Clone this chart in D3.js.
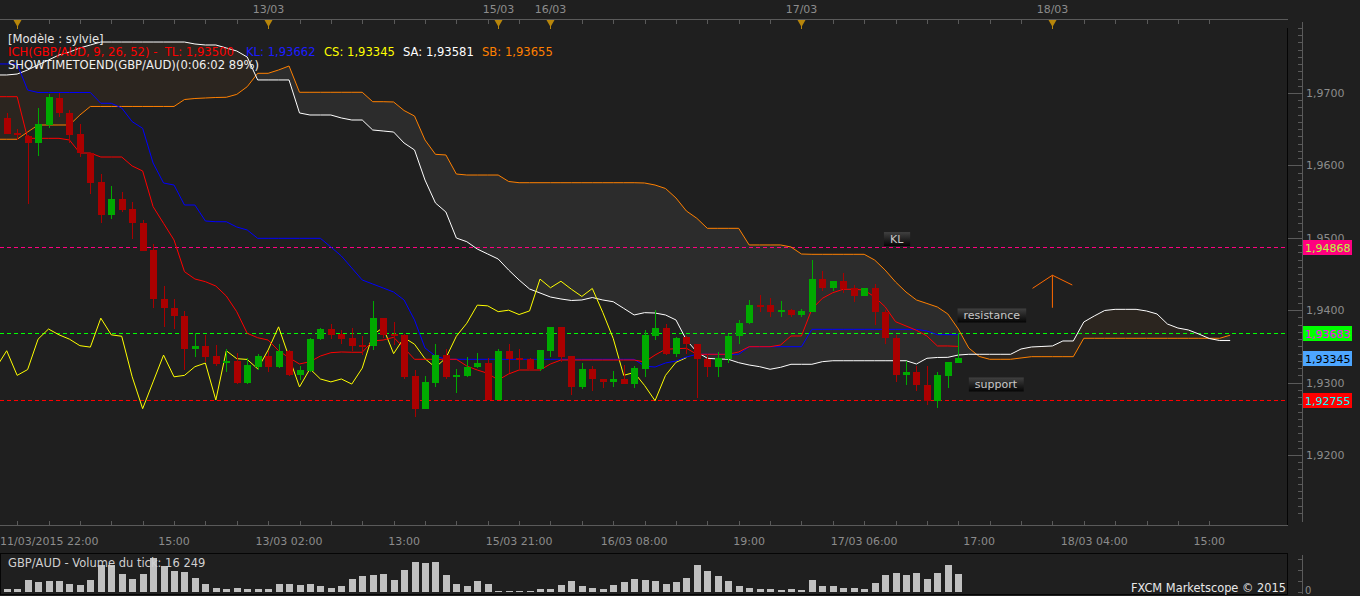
<!DOCTYPE html>
<html><head><meta charset="utf-8">
<script src="https://cdn.jsdelivr.net/npm/d3@7"></script>
<style>
body{margin:0;background:#1f1f1f;overflow:hidden}
svg{display:block}
text{font-family:"DejaVu Sans",sans-serif;}
</style></head>
<body><svg id="c" width="1360" height="596"></svg>
<script>
// ---------- DATA ----------
const opens  = [1.9665,1.9645,1.9641,1.9631,1.9656,1.9693,1.9672,1.9643,1.9617,1.9577,1.9531,1.9554,1.9540,1.9520,1.9483,1.9416,1.9403,1.9392,1.9346,1.9351,1.9337,1.9327,1.9330,1.9300,1.9321,1.9337,1.9321,1.9344,1.9310,1.9316,1.9360,1.9374,1.9367,1.9361,1.9352,1.9350,1.9389,1.9367,1.9366,1.9309,1.9264,1.9300,1.9338,1.9308,1.9309,1.9321,1.9327,1.9276,1.9344,1.9334,1.9332,1.9319,1.9344,1.9377,1.9337,1.9294,1.9319,1.9305,1.9301,1.9305,1.9298,1.9319,1.9365,1.9376,1.9340,1.9363,1.9353,1.9333,1.9321,1.9333,1.9364,1.9382,1.9407,1.9407,1.9398,1.9400,1.9394,1.9398,1.9443,1.9431,1.9440,1.9430,1.9419,1.9430,1.9398,1.9362,1.9310,1.9314,1.9297,1.9275,1.9309,1.9327];
const highs  = [1.9673,1.9650,1.9642,1.9679,1.9698,1.9700,1.9677,1.9657,1.9617,1.9588,1.9572,1.9563,1.9549,1.9525,1.9492,1.9433,1.9415,1.9399,1.9368,1.9366,1.9352,1.9346,1.9341,1.9334,1.9340,1.9343,1.9353,1.9345,1.9323,1.9361,1.9376,1.9381,1.9373,1.9376,1.9364,1.9413,1.9389,1.9384,1.9367,1.9317,1.9309,1.9353,1.9347,1.9319,1.9335,1.9341,1.9334,1.9346,1.9354,1.9347,1.9334,1.9345,1.9377,1.9377,1.9337,1.9327,1.9323,1.9305,1.9316,1.9324,1.9323,1.9372,1.9400,1.9381,1.9363,1.9364,1.9353,1.9340,1.9342,1.9367,1.9386,1.9414,1.9421,1.9417,1.9413,1.9401,1.9401,1.9469,1.9454,1.9441,1.9452,1.9435,1.9431,1.9436,1.9400,1.9366,1.9330,1.9323,1.9323,1.9314,1.9328,1.9368];
const lows   = [1.9643,1.9635,1.9546,1.9613,1.9651,1.9667,1.9631,1.9612,1.9560,1.9521,1.9526,1.9536,1.9498,1.9482,1.9403,1.9377,1.9374,1.9317,1.9335,1.9329,1.9323,1.9315,1.9298,1.9298,1.9318,1.9314,1.9320,1.9309,1.9304,1.9315,1.9359,1.9360,1.9353,1.9344,1.9338,1.9345,1.9362,1.9352,1.9305,1.9253,1.9264,1.9294,1.9305,1.9286,1.9308,1.9320,1.9276,1.9276,1.9313,1.9317,1.9317,1.9316,1.9336,1.9328,1.9283,1.9291,1.9288,1.9293,1.9294,1.9298,1.9293,1.9308,1.9359,1.9338,1.9336,1.9340,1.9279,1.9308,1.9308,1.9327,1.9354,1.9381,1.9398,1.9390,1.9390,1.9390,1.9391,1.9398,1.9427,1.9427,1.9424,1.9411,1.9419,1.9380,1.9354,1.9301,1.9296,1.9288,1.9269,1.9265,1.9292,1.9327];
const closes = [1.9644,1.9642,1.9631,1.9657,1.9694,1.9672,1.9642,1.9617,1.9576,1.9531,1.9554,1.9538,1.9520,1.9482,1.9415,1.9403,1.9392,1.9346,1.9351,1.9336,1.9326,1.9330,1.9300,1.9324,1.9337,1.9321,1.9344,1.9310,1.9318,1.9360,1.9374,1.9366,1.9360,1.9351,1.9349,1.9389,1.9366,1.9364,1.9308,1.9264,1.9301,1.9338,1.9308,1.9310,1.9322,1.9327,1.9276,1.9344,1.9333,1.9332,1.9319,1.9345,1.9377,1.9335,1.9294,1.9319,1.9305,1.9301,1.9305,1.9298,1.9320,1.9366,1.9376,1.9340,1.9362,1.9353,1.9333,1.9321,1.9334,1.9364,1.9382,1.9407,1.9406,1.9398,1.9400,1.9394,1.9399,1.9443,1.9431,1.9440,1.9429,1.9419,1.9430,1.9397,1.9361,1.9310,1.9314,1.9296,1.9275,1.9310,1.9328,1.93345];
const volumes = [3000,3000,11300,8900,9800,9800,7100,6200,11300,24500,24500,16200,12200,16200,31500,23600,19000,18400,13100,7600,3900,3000,3900,2500,2500,3000,7100,7600,6200,7100,5500,3900,5200,12200,14400,15300,16200,11300,20500,27300,26600,27300,15300,7600,5200,9800,7600,600,600,600,900,2500,2500,6200,9800,5200,3900,3000,6200,8900,12200,11300,9800,7100,8900,12900,24500,19000,14400,9800,5200,3900,2500,3000,1800,2500,1600,10700,5500,5200,3900,3900,3000,8300,15300,17400,15300,17400,12200,17400,24500,16249];
// Ichimoku lines (Tenkan / Kijun start one bar left of the first candle)
const tenkan = [1.96949,1.96949,1.96949,1.96374,1.96374,1.96374,1.96374,1.96351,1.96171,1.96171,1.96116,1.96116,1.96116,1.95992,1.95923,1.95430,1.95200,1.94970,1.94532,1.94431,1.94394,1.94334,1.94196,1.93979,1.93681,1.93620,1.93588,1.93441,1.93344,1.93257,1.93289,1.93367,1.93413,1.93423,1.93419,1.93419,1.93575,1.93588,1.93626,1.93478,1.93322,1.93322,1.93322,1.93322,1.93322,1.93229,1.93174,1.93128,1.93036,1.93119,1.93174,1.93174,1.93174,1.93257,1.93312,1.93312,1.93312,1.93312,1.93312,1.93312,1.93312,1.93312,1.93285,1.93381,1.93460,1.93468,1.93474,1.93391,1.93391,1.93391,1.93391,1.93423,1.93496,1.93496,1.93496,1.93519,1.93644,1.93644,1.94017,1.94164,1.94242,1.94289,1.94289,1.94279,1.94182,1.94048,1.93841,1.93782,1.93722,1.93644,1.93506,1.93506,1.93500];
const kijun = [1.97401,1.97401,1.97401,1.97041,1.97007,1.97007,1.97007,1.97007,1.97007,1.97007,1.96858,1.96858,1.96793,1.96604,1.96512,1.96033,1.95757,1.95729,1.95453,1.95453,1.95232,1.95222,1.95222,1.95149,1.95108,1.94993,1.94993,1.94993,1.94993,1.94993,1.94993,1.94993,1.94873,1.94749,1.94583,1.94417,1.94362,1.94307,1.94251,1.94141,1.93865,1.93478,1.93367,1.93322,1.93322,1.93322,1.93322,1.93322,1.93322,1.93322,1.93322,1.93322,1.93322,1.93322,1.93322,1.93322,1.93322,1.93322,1.93322,1.93322,1.93322,1.93322,1.93229,1.93215,1.93271,1.93298,1.93354,1.93391,1.93391,1.93391,1.93391,1.93391,1.93496,1.93496,1.93496,1.93496,1.93496,1.93496,1.93736,1.93736,1.93736,1.93736,1.93736,1.93736,1.93736,1.93736,1.93736,1.93736,1.93736,1.93713,1.93662,1.93662,1.93662];
// Senkou spans: from one bar left of first candle to 26 bars past the last candle
const senkouA = [1.97249,1.97249,1.97262,1.97318,1.97387,1.97456,1.97525,1.97566,1.97622,1.97663,1.97704,1.97704,1.97704,1.97704,1.97704,1.97704,1.97704,1.97704,1.97704,1.97677,1.97663,1.97663,1.97622,1.97580,1.97497,1.97180,1.97180,1.97180,1.97180,1.96724,1.96696,1.96696,1.96696,1.96655,1.96627,1.96627,1.96489,1.96475,1.96461,1.96309,1.96213,1.95798,1.95481,1.95356,1.94997,1.94946,1.94845,1.94776,1.94707,1.94555,1.94417,1.94293,1.94238,1.94182,1.94155,1.94134,1.94141,1.94175,1.94141,1.94117,1.94026,1.93934,1.93966,1.93961,1.93934,1.93865,1.93588,1.93423,1.93336,1.93326,1.93322,1.93275,1.93243,1.93220,1.93184,1.93211,1.93253,1.93253,1.93253,1.93289,1.93302,1.93302,1.93302,1.93302,1.93302,1.93302,1.93302,1.93302,1.93257,1.93336,1.93347,1.93349,1.93381,1.93391,1.93391,1.93391,1.93391,1.93391,1.93464,1.93492,1.93499,1.93506,1.93575,1.93575,1.93837,1.93920,1.93996,1.94012,1.94012,1.94012,1.93989,1.93948,1.93809,1.93754,1.93727,1.93671,1.93609,1.93581,1.93581];
const senkouB = [1.96361,1.96361,1.96361,1.96461,1.96558,1.96558,1.96558,1.96558,1.96696,1.96814,1.96814,1.96814,1.96814,1.96814,1.96814,1.96814,1.96814,1.96814,1.96910,1.96924,1.96931,1.96938,1.96941,1.96981,1.97087,1.97272,1.97272,1.97318,1.97373,1.97010,1.97010,1.97010,1.97010,1.97010,1.97010,1.97010,1.96880,1.96880,1.96876,1.96758,1.96682,1.96351,1.96153,1.96144,1.95881,1.95867,1.95867,1.95867,1.95867,1.95778,1.95761,1.95761,1.95761,1.95761,1.95761,1.95761,1.95761,1.95761,1.95761,1.95761,1.95761,1.95761,1.95757,1.95729,1.95681,1.95550,1.95370,1.95269,1.95131,1.95131,1.95131,1.95131,1.94901,1.94901,1.94901,1.94901,1.94873,1.94776,1.94772,1.94772,1.94772,1.94772,1.94772,1.94772,1.94693,1.94555,1.94390,1.94251,1.94141,1.94093,1.94044,1.93948,1.93740,1.93478,1.93361,1.93322,1.93322,1.93322,1.93340,1.93358,1.93358,1.93358,1.93358,1.93358,1.93612,1.93612,1.93612,1.93612,1.93612,1.93612,1.93612,1.93612,1.93612,1.93612,1.93612,1.93612,1.93612,1.93612,1.93655];
const chikouShift = 26;
// horizontal levels
const levelValues = [1.94868, 1.93683, 1.92755];
const levelColors = ["#ff0080", "#00ff00", "#ff0000"];
const levelTextColors = ["#b4ff3c", "#ff00ff", "#00ffff"];
const lastPrice = 1.93345;
const priceMajorTicks = [1.92, 1.93, 1.94, 1.95, 1.96, 1.97];
// time axes
const timeLabelIdx = [-1, 16, 27, 38, 49, 60, 71, 82, 93, 104, 115];
const timeLabelText = ["11/03/2015 22:00","15:00","13/03 02:00","13:00","15/03 21:00","16/03 08:00","19:00","17/03 06:00","17:00","18/03 04:00","15:00"];
const dayMarkerIdx = [1, 25, 47, 52, 76, 100];
const dayMarkerText = ["12/03","13/03","15/03","16/03","17/03","18/03"];
// annotations
const annotLabels = ["KL", "resistance", "support"];
const annotIdx = [85.1, 94.2, 94.6];
const annotPrice = [1.94983, 1.93927, 1.92974];
const arrowIdx = [100, 98.1, 101.9];
const arrowPrice = [1.94034, 1.94483, 1.94302, 1.94348];

// ---------- SCALES ----------
const W = 1360, H = 596;
const plotRight = 1288, plotTop = 20, plotBottom = 526;
const x = d3.scaleLinear().domain([0, 91]).range([6.7, 958.3]);
const y = d3.scaleLinear().domain([1.92, 1.97]).range([455, 93]);
const vy = d3.scaleLinear().domain([0, 30000]).range([592, 559.3]);
const loc = d3.formatLocale({decimal: ",", thousands: " ", grouping: [3], currency: ["", ""]});
const f4 = loc.format(".4f"), f5 = loc.format(".5f");

const svg = d3.select("#c");
svg.append("rect").attr("width", W).attr("height", H).attr("fill", "#1f1f1f");
const defs = svg.append("defs");
defs.append("clipPath").attr("id", "plot").append("rect").attr("x", 0).attr("y", plotTop).attr("width", plotRight).attr("height", plotBottom - plotTop);
const grad = defs.append("linearGradient").attr("id", "lab").attr("x1", 0).attr("y1", 0).attr("x2", 0).attr("y2", 1);
grad.append("stop").attr("offset", "0%").attr("stop-color", "#404040");
grad.append("stop").attr("offset", "100%").attr("stop-color", "#050505");

const plot = svg.append("g").attr("clip-path", "url(#plot)");

// ---------- CLOUD ----------
const spanPts = senkouA.map((a, k) => ({i: k - 1, a, b: senkouB[k]}));
defs.append("clipPath").attr("id", "belowA").append("path")
  .attr("d", d3.area().x(d => x(d.i)).y0(H).y1(d => y(d.a))(spanPts));
defs.append("clipPath").attr("id", "aboveA").append("path")
  .attr("d", d3.area().x(d => x(d.i)).y0(0).y1(d => y(d.a))(spanPts));
plot.append("path").attr("clip-path", "url(#belowA)").attr("fill", "#2b251f")
  .attr("d", d3.area().x(d => x(d.i)).y0(0).y1(d => y(d.b))(spanPts));
plot.append("path").attr("clip-path", "url(#aboveA)").attr("fill", "#2c2c2c")
  .attr("d", d3.area().x(d => x(d.i)).y0(H).y1(d => y(d.b))(spanPts));

// ---------- LEVEL LINES ----------
levelValues.forEach((v, k) => {
  plot.append("line").attr("x1", 0).attr("x2", plotRight).attr("y1", Math.round(y(v)) + 0.5).attr("y2", Math.round(y(v)) + 0.5)
    .attr("stroke", levelColors[k]).attr("stroke-width", 1).attr("stroke-dasharray", "4,3").attr("shape-rendering", "crispEdges");
});

// ---------- INDICATOR LINES ----------
const line = d3.line().x(d => x(d.i)).y(d => y(d.v));
function drawLine(vals, start, color) {
  plot.append("path").attr("fill", "none").attr("stroke", color).attr("stroke-width", 1)
    .attr("d", line(vals.map((v, k) => ({i: start + k, v}))));
}
drawLine(senkouB, -1, "#ff8000");
drawLine(senkouA, -1, "#ffffff");
drawLine(closes.slice(chikouShift - 1), -1, "#ffff00");
drawLine(kijun, -1, "#0000ff");
drawLine(tenkan, -1, "#ff0000");

// ---------- CANDLES ----------
const candles = closes.map((c, i) => ({i, o: opens[i], h: highs[i], l: lows[i], c}));
const cg = plot.append("g").attr("shape-rendering", "crispEdges");
cg.selectAll("line.w").data(candles).join("line")
  .attr("x1", d => Math.round(x(d.i)) + 0.5).attr("x2", d => Math.round(x(d.i)) + 0.5)
  .attr("y1", d => y(d.h)).attr("y2", d => y(d.l))
  .attr("stroke", d => d.c >= d.o ? "#00aa00" : "#aa0000");
cg.selectAll("rect").data(candles).join("rect")
  .attr("x", d => Math.round(x(d.i)) - 3).attr("width", 7)
  .attr("y", d => y(Math.max(d.o, d.c)))
  .attr("height", d => Math.max(2, Math.abs(y(d.o) - y(d.c))))
  .attr("fill", d => d.c >= d.o ? "#00aa00" : "#aa0000");

// ---------- ANNOTATIONS ----------
annotLabels.forEach((t, k) => {
  const g = svg.append("g");
  const tx = g.append("text").attr("x", x(annotIdx[k])).attr("y", y(annotPrice[k]) + 4)
    .attr("text-anchor", "middle").attr("font-size", 11).attr("fill", "#c8c8c8").text(t);
  const bb = tx.node().getBBox();
  g.insert("rect", "text").attr("x", bb.x - 6).attr("y", y(annotPrice[k]) - 7).attr("width", bb.width + 12).attr("height", 14)
    .attr("fill", "url(#lab)");
});
svg.append("path").attr("fill", "none").attr("stroke", "#ff6a00").attr("stroke-width", 1)
  .attr("d", `M${x(arrowIdx[0])},${y(arrowPrice[0])}V${y(arrowPrice[1])}M${x(arrowIdx[1])},${y(arrowPrice[2])}L${x(arrowIdx[0])},${y(arrowPrice[1])}L${x(arrowIdx[2])},${y(arrowPrice[3])}`);

// ---------- RIGHT PRICE AXIS ----------
const ax = svg.append("g").attr("shape-rendering", "crispEdges");
ax.append("line").attr("x1", plotRight - 0.5).attr("x2", plotRight - 0.5).attr("y1", 28).attr("y2", plotBottom).attr("stroke", "#050505");
ax.append("line").attr("x1", 1302.5).attr("x2", 1302.5).attr("y1", 22).attr("y2", 522).attr("stroke", "#5a5a5a");
d3.range(1910, 1984).forEach(k => {
  const v = k / 1000, py = Math.round(y(v)) + 0.5;
  if (py < 24 || py > 520) return;
  const major = k % 10 === 0;
  ax.append("line").attr("x1", major ? plotRight : 1298).attr("x2", 1302).attr("y1", py).attr("y2", py).attr("stroke", "#5a5a5a");
});
priceMajorTicks.forEach(v => {
  svg.append("text").attr("x", 1306).attr("y", y(v) + 4).attr("font-size", 11).attr("fill", "#8c8c8c").text(f4(v));
});
function priceBox(v, bg, fg) {
  svg.append("rect").attr("x", 1303).attr("y", Math.round(y(v)) - 7).attr("width", 49).attr("height", 15).attr("fill", bg);
  svg.append("text").attr("x", 1305).attr("y", Math.round(y(v)) + 4.5).attr("font-size", 11).attr("fill", fg).text(f5(v));
}
levelValues.forEach((v, k) => priceBox(v, levelColors[k], levelTextColors[k]));
priceBox(lastPrice, "#4da6ff", "#000000");

// ---------- TOP DATE AXIS ----------
const topAxis = svg.append("g");
topAxis.append("line").attr("x1", 0).attr("x2", plotRight).attr("y1", 19.5).attr("y2", 19.5).attr("stroke", "#5a5a5a").attr("shape-rendering", "crispEdges");
d3.range(1, 118, 3).forEach(i => {
  topAxis.append("line").attr("x1", Math.round(x(i)) + 0.5).attr("x2", Math.round(x(i)) + 0.5).attr("y1", 20).attr("y2", 24)
    .attr("stroke", "#5a5a5a").attr("shape-rendering", "crispEdges");
});
dayMarkerIdx.forEach((i, k) => {
  const cx = Math.round(x(i)) + 0.5;
  topAxis.append("path").attr("d", `M${cx - 4},20L${cx + 4},20L${cx},27Z`).attr("fill", "#b8860b");
  topAxis.append("line").attr("x1", cx).attr("x2", cx).attr("y1", 20).attr("y2", 29).attr("stroke", "#b8860b");
  const t = topAxis.append("text").attr("x", cx).attr("y", 13).attr("text-anchor", "middle").attr("font-size", 11).attr("fill", "#8c8c8c").text(dayMarkerText[k]);
  if (t.node().getBBox().x < 6) t.remove();   // label would be clipped by the left edge
});

// ---------- BOTTOM TIME AXIS ----------
const botAxis = svg.append("g").attr("shape-rendering", "crispEdges");
botAxis.append("line").attr("x1", 0).attr("x2", plotRight).attr("y1", plotBottom - 0.5).attr("y2", plotBottom - 0.5).attr("stroke", "#5a5a5a");
d3.range(1, 118, 3).forEach(i => {
  botAxis.append("line").attr("x1", Math.round(x(i)) + 0.5).attr("x2", Math.round(x(i)) + 0.5).attr("y1", plotBottom - 5).attr("y2", plotBottom)
    .attr("stroke", "#5a5a5a");
});
timeLabelIdx.forEach((i, k) => {
  const t = svg.append("text").attr("x", x(i)).attr("y", 545).attr("text-anchor", "middle").attr("font-size", 11).attr("fill", "#8c8c8c").text(timeLabelText[k]);
  const bb = t.node().getBBox();
  if (bb.x < 0) t.attr("text-anchor", "start").attr("x", 0);
});

// ---------- VOLUME PANEL ----------
const vg = svg.append("g");
vg.append("rect").attr("x", 0.5).attr("y", 553.5).attr("width", plotRight - 1).attr("height", 41).attr("fill", "none").attr("stroke", "#050505");
vg.selectAll("rect.v").data(volumes).join("rect").attr("class", "v")
  .attr("x", (d, i) => Math.round(x(i)) - 3).attr("width", 7)
  .attr("y", d => vy(d)).attr("height", d => vy(0) - vy(d)).attr("fill", "#c0c0c0").attr("shape-rendering", "crispEdges");
vg.append("line").attr("x1", 1302.5).attr("x2", 1302.5).attr("y1", 555).attr("y2", 594).attr("stroke", "#5a5a5a");
[0, 10000, 20000, 30000].forEach(v => {
  vg.append("line").attr("x1", 1298).attr("x2", 1302).attr("y1", Math.round(vy(v)) + 0.5).attr("y2", Math.round(vy(v)) + 0.5).attr("stroke", "#5a5a5a");
});
vg.append("text").attr("x", 1305).attr("y", 594).attr("font-size", 10).attr("fill", "#8c8c8c").text("0");
vg.append("text").attr("x", 8).attr("y", 567).attr("font-size", 11.5).attr("fill", "#d0d0d0")
  .text("GBP/AUD - Volume du tick: " + loc.format(",")(volumes[volumes.length - 1]));
vg.append("text").attr("x", 1286).attr("y", 592).attr("text-anchor", "end").attr("font-size", 11.4).attr("fill", "#e8e8e8").text("FXCM Marketscope © 2015");

// ---------- LEGEND ----------
const lg = svg.append("g").attr("font-size", 11.6);
lg.append("text").attr("x", 8).attr("y", 43).attr("fill", "#e6e6e6").text("[Modèle : sylvie]");
const l2 = lg.append("text").attr("y", 56).attr("xml:space", "preserve");
l2.append("tspan").attr("x", 8).attr("fill", "#ff0000").text("ICH(GBP/AUD, 9, 26, 52) -  TL: " + f5(tenkan[tenkan.length - 1]));
l2.append("tspan").attr("x", 246).attr("fill", "#1c1cff").text("KL: " + f5(kijun[kijun.length - 1]));
l2.append("tspan").attr("x", 324).attr("fill", "#ffff00").text("CS: " + f5(closes[closes.length - 1]));
l2.append("tspan").attr("x", 403).attr("fill", "#ffffff").text("SA: " + f5(senkouA[senkouA.length - 1]));
l2.append("tspan").attr("x", 482).attr("fill", "#ff8000").text("SB: " + f5(senkouB[senkouB.length - 1]));
lg.append("text").attr("x", 8).attr("y", 69).attr("fill", "#f0f0f0").text("SHOWTIMETOEND(GBP/AUD)(0:06:02 89%)");
</script></body></html>
